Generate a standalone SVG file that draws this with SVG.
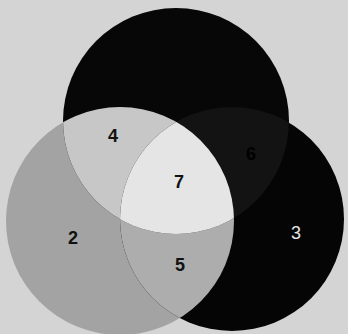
<svg xmlns="http://www.w3.org/2000/svg" width="348" height="334" viewBox="0 0 348 334">
  <style>
    .lbl { font-family: "Liberation Sans", Arial, sans-serif; font-size: 18px; text-anchor: middle; }
    .dark { fill: #111111; font-weight: bold; }
    .light { fill: #e8e8e8; }
  </style>
  <defs>
    <clipPath id="clip1"><circle cx="176" cy="121" r="113"/></clipPath>
    <clipPath id="clip2"><circle cx="120" cy="221" r="114"/></clipPath>
  </defs>
  <rect id="background" x="0" y="0" width="348" height="334" fill="#d4d4d4"/>
  <g id="circle2"><circle cx="120" cy="221" r="114" fill="#a3a3a3"/></g>
  <g id="circle3"><circle cx="232" cy="219" r="112" fill="#050505"/></g>
  <g id="circle1"><circle cx="176" cy="121" r="113" fill="#070707"/></g>
  <g id="region5" clip-path="url(#clip2)"><circle cx="232" cy="219" r="112" fill="#adadad"/></g>
  <g id="region4" clip-path="url(#clip1)"><circle cx="120" cy="221" r="114" fill="#c7c7c7"/></g>
  <g id="region6" clip-path="url(#clip1)"><circle cx="232" cy="219" r="112" fill="#131313"/></g>
  <g id="region7" clip-path="url(#clip1)">
    <g clip-path="url(#clip2)"><circle cx="232" cy="219" r="112" fill="#e5e5e5"/></g>
  </g>
  <g id="labels">
    <text class="lbl dark" x="113" y="141.5">4</text>
    <text class="lbl dark" x="179" y="187.5">7</text>
    <text class="lbl dark" x="73" y="243.5">2</text>
    <text class="lbl dark" x="180" y="270.5">5</text>
    <text class="lbl light" x="296" y="238.5">3</text>
    <text class="lbl" x="251" y="159.5" fill="#000000" font-weight="bold">6</text>
  </g>
</svg>
